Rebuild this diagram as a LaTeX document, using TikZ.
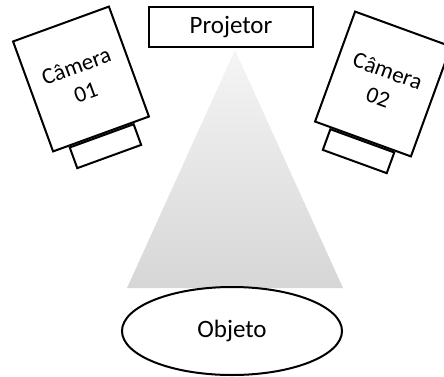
\documentclass[tikz,border=0pt]{standalone}
\usepackage{fontspec}
\setmainfont{Carlito}
\usetikzlibrary{shapes.geometric}

\begin{document}
\begin{tikzpicture}[x=1pt,y=1pt,
    corpo/.style={draw,line width=2pt,fill=white,minimum width=102pt,minimum height=117pt,
      inner sep=0pt,align=center,font=\fontsize{23}{28}\selectfont},
    lente/.style={draw,line width=2pt,fill=white,minimum width=68pt,minimum height=22pt,
      inner sep=0pt,anchor=north}]
  \useasboundingbox (0,0) rectangle (444,376);

  \node[draw,line width=2pt,minimum width=164pt,minimum height=40pt,
    font=\fontsize{25}{30}\selectfont] (proj) at (231,349) {Projetor};

  % fascio di luce
  \coordinate (vertice) at (235,326);
  \coordinate (base1) at (127,88);
  \coordinate (base2) at (343,88);
  \shade[top color=black!4,bottom color=black!16] (vertice) -- (base1) -- (base2) -- cycle;

  \node[draw,ellipse,line width=2pt,fill=white,minimum width=220pt,minimum height=88pt,
    font=\fontsize{25}{30}\selectfont] (obj) at (232,45) {Objeto};

  \begin{scope}
    \node[corpo,rotate=20] (cam1) at (81,297) {Câmera\\01};
    \node[lente,rotate=20] (lente1) at (cam1.south) {};
  \end{scope}

  \begin{scope}
    \node[corpo,rotate=-20] (cam2) at (383,292) {Câmera\\02};
    \node[lente,rotate=-20] (lente2) at (cam2.south) {};
  \end{scope}
\end{tikzpicture}
\end{document}
